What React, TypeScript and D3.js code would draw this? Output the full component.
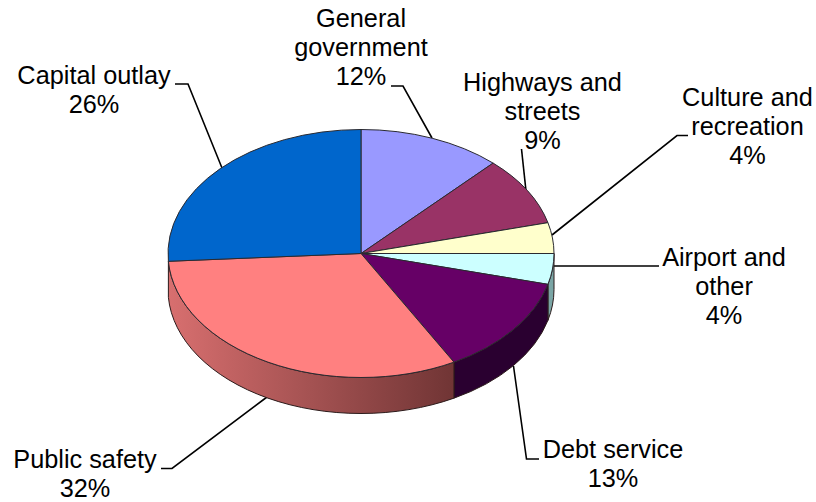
import * as d3 from "d3";

const categories = ["General government", "Highways and streets", "Culture and recreation", "Airport and other", "Debt service", "Public safety", "Capital outlay"];
const shares = [12, 9, 4, 4, 13, 32, 26];
const topColors = ["#9999ff", "#993366", "#ffffcc", "#ccffff", "#660066", "#ff8080", "#0066cc"];
const wallStops = [
  ["#7aa5a5", "#7aa5a5"],
  ["#3a0038", "#2a0030"],
  ["#d86f6f", "#6f3434"],
];

// Callout text: one entry per category, lines anchored in the middle.
const labelLines = [
  ["General", "government", "12%"],
  ["Highways and", "streets", "9%"],
  ["Culture and", "recreation", "4%"],
  ["Airport and", "other", "4%"],
  ["Debt service", "13%"],
  ["Public safety", "32%"],
  ["Capital outlay", "26%"],
];
const labelX = [361, 542.5, 747.5, 724, 613, 85, 94];
const labelY = [27, 91, 106, 266, 458, 468, 84];
const leaderPoints: [number, number][][] = [
  [[391, 86], [403, 86], [432, 138]],
  [[521.5, 149], [526, 191]],
  [[688, 135.5], [677, 135.5], [552, 235]],
  [[659, 266], [554, 266]],
  [[513.5, 366], [526.5, 459], [539, 459]],
  [[161, 468.5], [172, 468.5], [267, 397]],
  [[175, 84], [188, 84], [222, 168]],
];

const cx = 361;
const cy = 253.5;
const rx = 193;
const ry = 124;
const depth = 36;
const lineGap = 29;

const px = d3.scaleLinear().domain([-1, 1]).range([cx - rx, cx + rx]);
const py = d3.scaleLinear().domain([-1, 1]).range([cy - ry, cy + ry]);

const slices = d3.pie<number>().sort(null)(shares);

function topPath(a0: number, a1: number) {
  const x0 = px(Math.sin(a0));
  const y0 = py(-Math.cos(a0));
  const x1 = px(Math.sin(a1));
  const y1 = py(-Math.cos(a1));
  const large = a1 - a0 > Math.PI ? 1 : 0;
  return `M${cx},${cy}L${x0},${y0}A${rx},${ry} 0 ${large} 1 ${x1},${y1}Z`;
}

// Side wall between two angles on the visible lower half of the rim.
function wallPath(a0: number, a1: number) {
  const lo = Math.max(a0, Math.PI / 2);
  const hi = Math.min(a1, (3 * Math.PI) / 2);
  if (hi <= lo) return null;
  const x0 = px(Math.sin(lo));
  const y0 = py(-Math.cos(lo));
  const x1 = px(Math.sin(hi));
  const y1 = py(-Math.cos(hi));
  return `M${x0},${y0}A${rx},${ry} 0 0 1 ${x1},${y1}L${x1},${y1 + depth}A${rx},${ry} 0 0 0 ${x0},${y0 + depth}Z`;
}

const wallSlices = slices.filter((s) => wallPath(s.startAngle, s.endAngle) && s.index >= 3 && s.index <= 5);
const line = d3.line();

export default function App() {
  return (
    <svg width={816} height={502} style={{ position: "absolute", left: 0, top: 0 }} fontFamily="'Liberation Sans', Arial, sans-serif">
      <defs>
        {wallStops.map((stops, i) => (
          <linearGradient key={i} id={`wall${i}`} gradientUnits="userSpaceOnUse" x1={cx - rx} x2={px(0.5)} y1={0} y2={0}>
            <stop offset="0" stopColor={stops[0]} />
            <stop offset="1" stopColor={stops[1]} />
          </linearGradient>
        ))}
      </defs>
      <rect width={816} height={502} fill="#fff" />
      {leaderPoints.map((pts, i) => (
        <path key={i} d={line(pts) ?? ""} fill="none" stroke="#000" strokeWidth={1.6} />
      ))}
      {wallSlices.map((s, i) => (
        <path key={s.index} d={wallPath(s.startAngle, s.endAngle) ?? ""} fill={`url(#wall${i})`} stroke="#2b1a1a" strokeWidth={1} />
      ))}
      {slices.map((s) => (
        <path key={s.index} d={topPath(s.startAngle, s.endAngle)} fill={topColors[s.index]} stroke="#2a2a30" strokeWidth={1} aria-label={categories[s.index]} />
      ))}
      {labelLines.map((lines, i) => (
        <text key={i} x={labelX[i]} y={labelY[i]} textAnchor="middle" fontSize={25.3} fill="#000">
          {lines.map((t, j) => (
            <tspan key={j} x={labelX[i]} y={labelY[i] + j * lineGap}>{t}</tspan>
          ))}
        </text>
      ))}
    </svg>
  );
}
